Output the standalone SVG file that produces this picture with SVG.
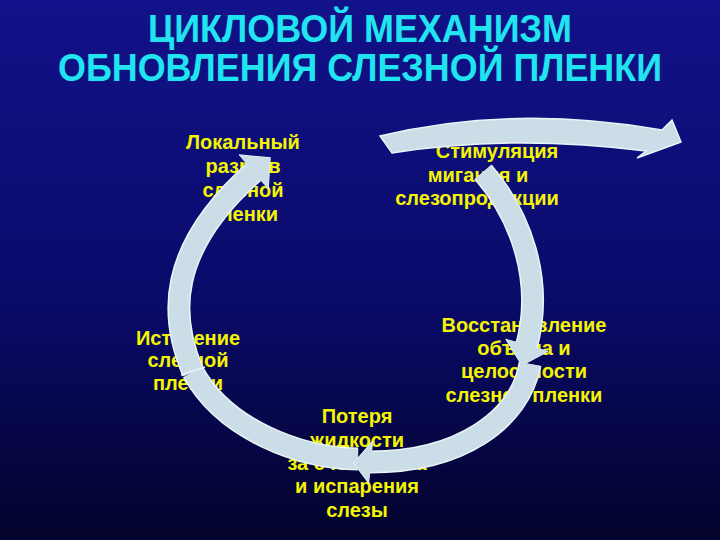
<svg xmlns="http://www.w3.org/2000/svg" width="720" height="540" viewBox="0 0 720 540">
  <defs>
    <linearGradient id="bg" x1="0" y1="0" x2="0" y2="1">
      <stop offset="0" stop-color="#12128a"/>
      <stop offset="0.55" stop-color="#0a0a6a"/>
      <stop offset="1" stop-color="#03032c"/>
    </linearGradient>
    <style>
      .title { font-family: "Liberation Sans", Arial, sans-serif; font-weight: bold; font-size: 39px; fill: #20e4f0; text-anchor: middle; }
      .lbl { font-family: "Liberation Sans", Arial, sans-serif; font-weight: bold; font-size: 20px; fill: #f4f400; text-anchor: middle; }
      .sh-out { fill: none; stroke: #eaf4f8; stroke-width: 23; stroke-linecap: butt; }
      .sh-in { fill: none; stroke: #cbdee7; stroke-width: 20; stroke-linecap: butt; }
      .head { fill: #cbdee7; stroke: #eaf4f8; stroke-width: 1.5; stroke-linejoin: miter; }
      .band { fill: #cbdee7; stroke: #eaf4f8; stroke-width: 1.5; }
    </style>
  </defs>

  <rect x="0" y="0" width="720" height="540" fill="url(#bg)"/>

  <g id="title">
    <text class="title" x="360" y="42" textLength="424" lengthAdjust="spacingAndGlyphs">ЦИКЛОВОЙ МЕХАНИЗМ</text>
    <text class="title" x="360" y="81" textLength="604" lengthAdjust="spacingAndGlyphs">ОБНОВЛЕНИЯ СЛЕЗНОЙ ПЛЕНКИ</text>
  </g>

  <g id="node-razryv">
    <text class="lbl" x="243" y="149">Локальный</text>
    <text class="lbl" x="243" y="173">разрыв</text>
    <text class="lbl" x="243" y="197">слезной</text>
    <text class="lbl" x="243" y="221">пленки</text>
  </g>

  <g id="node-stimulyaciya">
    <text class="lbl" x="497" y="158">Стимуляция</text>
    <text class="lbl" x="478" y="182">мигания и</text>
    <text class="lbl" x="477" y="205">слезопродукции</text>
  </g>

  <g id="node-vosstanovlenie">
    <text class="lbl" x="524" y="332">Восстановление</text>
    <text class="lbl" x="524" y="355">объема и</text>
    <text class="lbl" x="524" y="378">целостности</text>
    <text class="lbl" x="524" y="402">слезной пленки</text>
  </g>

  <g id="node-istechenie">
    <text class="lbl" x="188" y="345">Истечение</text>
    <text class="lbl" x="188" y="367">слезной</text>
    <text class="lbl" x="188" y="390">пленки</text>
  </g>

  <g id="node-poterya">
    <text class="lbl" x="357" y="423">Потеря</text>
    <text class="lbl" x="357" y="447">жидкости</text>
    <text class="lbl" x="357" y="470">за счет оттока</text>
    <text class="lbl" x="357" y="493">и испарения</text>
    <text class="lbl" x="357" y="517">слезы</text>
  </g>

  <g id="connectors">
    <!-- top arrow (stimulation) -->
    <path class="band" d="M380,136 Q512,104 662,130 L672,120 L681,142 L637,158 L646,151 Q512,134 392,153 Z"/>

    <!-- right arc: stimulation -> restoration -->
    <path class="sh-out" d="M483,172 C520,215 545,280 526,348"/>
    <path class="sh-in" d="M483,172 C520,215 545,280 526,348"/>
    <path class="head" d="M506,339 L522,365 L548,351"/>
    <polygon points="506,339 548,351 522,365" fill="#cbdee7"/>

    <!-- bottom-right arc: restoration -> loss -->
    <path class="sh-out" d="M530,364 C520,420 460,462 370,462"/>
    <path class="sh-in" d="M530,364 C520,420 460,462 370,462"/>
    <!-- bottom-left arc: loss -> outflow -->
    <path class="sh-out" d="M358,459 C300,458 225,430 193,372"/>
    <path class="sh-in" d="M358,459 C300,458 225,430 193,372"/>
    <path class="head" d="M373,441 L354,463 L369,483"/>
    <polygon points="373,441 354,463 369,483" fill="#cbdee7"/>

    <!-- left arc: outflow -> local rupture -->
    <path class="sh-out" d="M193,372 C170,318 165,250 256,170"/>
    <path class="sh-in" d="M193,372 C170,318 165,250 256,170"/>
    <path class="head" d="M239,155 L270,158 L268,189"/>
    <polygon points="239,155 270,158 268,189" fill="#cbdee7"/>
    <line x1="181" y1="375" x2="205" y2="367" stroke="#eaf4f8" stroke-width="1.5"/>
  </g>
</svg>
